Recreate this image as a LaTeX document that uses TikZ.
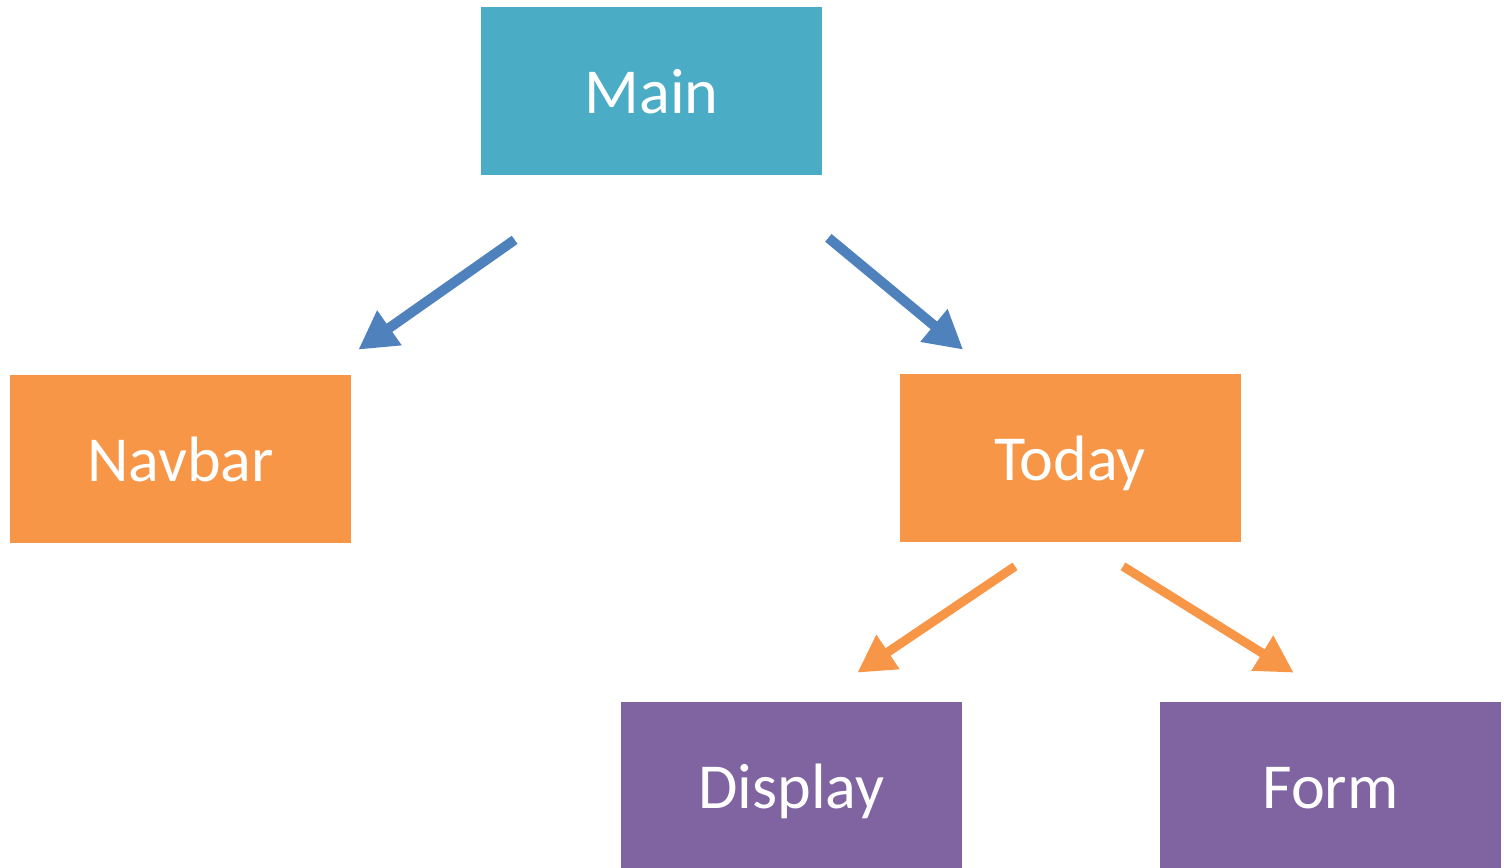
\documentclass[tikz,border=0pt]{standalone}
\usepackage{fontspec}
\setmainfont{Carlito}
\usetikzlibrary{arrows.meta,positioning}

\definecolor{mainteal}{HTML}{4BACC6}
\definecolor{boxorange}{HTML}{F79646}
\definecolor{boxpurple}{HTML}{8064A2}
\definecolor{arrowblue}{HTML}{4F81BD}

\begin{document}
\begin{tikzpicture}[
    box/.style={inner sep=0pt, minimum width=6.82cm, minimum height=3.36cm, text height=1.0cm, text depth=0.1cm, text=white, font=\fontsize{36.5}{44}\selectfont},
    bluearrow/.style={-{Triangle[length=0.76cm, width=0.8cm]}, draw=arrowblue, line width=0.2cm},
    orangearrow/.style={-{Triangle[length=0.74cm, width=0.78cm]}, draw=boxorange, line width=0.18cm}]

    \useasboundingbox (0,0) rectangle (30.08,-17.36);

    % boxes
    \node[box, fill=mainteal] (main) at (13.03,-1.83) {Main};
    \node[box, fill=boxorange] (navbar) at (3.61,-9.18) {Navbar};
    \node[box, fill=boxorange] (today) at (21.40,-9.16) {Today};
    \node[box, fill=boxpurple] (display) at (15.83,-15.72) {Display};
    \node[box, fill=boxpurple] (form) at (26.61,-15.72) {Form};

    % arrows
    \draw[bluearrow] ([xshift=0.68cm, yshift=-1.28cm]main.south west) -- ([xshift=0.14cm, yshift=0.50cm]navbar.north east);
    \draw[bluearrow] ([xshift=0.12cm, yshift=-1.24cm]main.south east) -- ([xshift=1.28cm, yshift=0.48cm]today.north west);
    \draw[orangearrow] ([xshift=-1.10cm, yshift=-0.48cm]today.south) -- ([xshift=-2.10cm, yshift=0.58cm]display.north east);
    \draw[orangearrow] ([xshift=1.06cm, yshift=-0.48cm]today.south) -- ([xshift=2.68cm, yshift=0.58cm]form.north west);
\end{tikzpicture}
\end{document}
